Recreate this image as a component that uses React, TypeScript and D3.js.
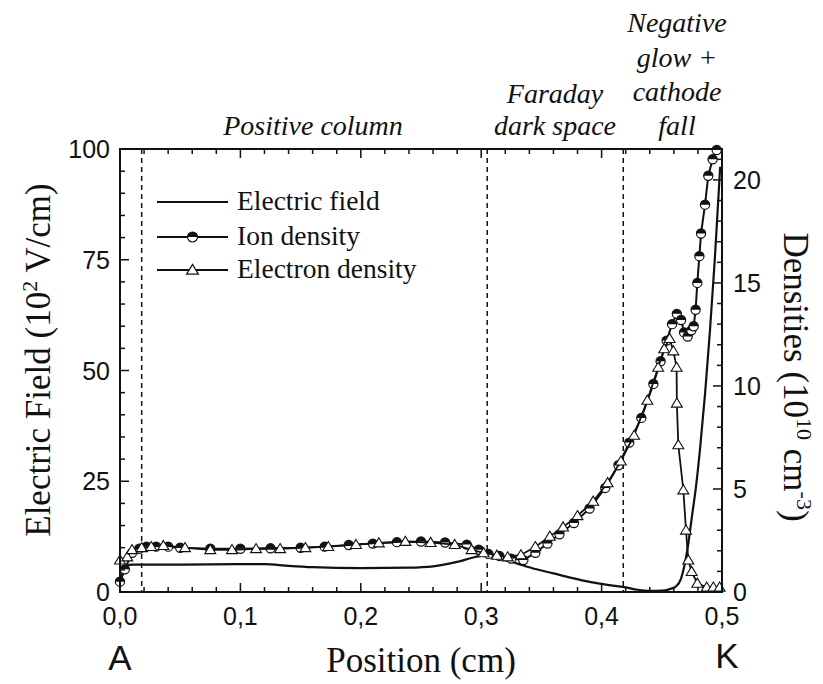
import React from "react";
import * as d3 from "d3";

// Electric field (10^2 V/cm) vs position (cm)
const fieldX = [0, 0.006, 0.01, 0.05, 0.1, 0.12, 0.14, 0.16, 0.2, 0.24, 0.26, 0.28, 0.295, 0.303, 0.315, 0.33, 0.345, 0.36, 0.375, 0.39, 0.405, 0.419, 0.43, 0.44, 0.45, 0.456, 0.462, 0.466, 0.468, 0.4715, 0.475, 0.4785, 0.482, 0.486, 0.49, 0.494, 0.4985];
const fieldY = [2.5, 6.0, 6.2, 6.2, 6.3, 6.3, 5.9, 5.6, 5.4, 5.5, 5.8, 6.8, 7.9, 8.3, 7.6, 6.4, 5.2, 4.2, 3.2, 2.3, 1.6, 1.1, 0.5, 0.25, 0.3, 0.6, 1.3, 3.0, 5.0, 10, 17, 24, 33, 45, 59, 75, 96];

// Ion density (10^10 cm^-3)
const ionX = [0, 0.004, 0.01, 0.016, 0.022, 0.03, 0.04, 0.05, 0.075, 0.1, 0.125, 0.15, 0.17, 0.19, 0.21, 0.23, 0.25, 0.27, 0.288, 0.298, 0.306, 0.315, 0.325, 0.335, 0.345, 0.355, 0.365, 0.377, 0.39, 0.403, 0.414, 0.423, 0.433, 0.443, 0.449, 0.454, 0.4585, 0.4625, 0.466, 0.4685, 0.4715, 0.4745, 0.4765, 0.4781, 0.4795, 0.4812, 0.4826, 0.4859, 0.4886, 0.4922, 0.4956];
const ionY = [0.5, 1.1, 1.9, 2.1, 2.2, 2.2, 2.2, 2.15, 2.1, 2.1, 2.12, 2.15, 2.2, 2.28, 2.35, 2.42, 2.45, 2.4, 2.3, 2.05, 1.85, 1.75, 1.62, 1.55, 1.9, 2.35, 2.8, 3.35, 4.05, 5.05, 6.15, 7.25, 8.45, 10.1, 11.2, 12.2, 13.0, 13.5, 13.2, 12.6, 12.4, 12.7, 12.9, 13.7, 15.0, 16.3, 17.4, 18.8, 20.2, 21.0, 21.45];

// Electron density (10^10 cm^-3)
const eleX = [0, 0.006, 0.01, 0.018, 0.026, 0.036, 0.054, 0.075, 0.093, 0.113, 0.133, 0.154, 0.173, 0.196, 0.215, 0.237, 0.258, 0.278, 0.292, 0.302, 0.313, 0.322, 0.333, 0.345, 0.357, 0.368, 0.38, 0.393, 0.405, 0.416, 0.427, 0.438, 0.447, 0.452, 0.4565, 0.4596, 0.4623, 0.4625, 0.4637, 0.4679, 0.4701, 0.472, 0.4748, 0.4795, 0.4873, 0.4928, 0.498];
const eleY = [1.55, 1.7, 2.05, 2.15, 2.2, 2.25, 2.15, 2.05, 2.05, 2.1, 2.1, 2.15, 2.2, 2.3, 2.38, 2.45, 2.4, 2.3, 2.05, 1.9, 1.78, 1.7, 1.8, 2.2, 2.7, 3.15, 3.7, 4.4, 5.3, 6.35, 7.6, 9.3, 10.9, 11.8, 12.3, 11.7, 10.9, 9.16, 7.14, 4.95, 3.0, 1.55, 0.99, 0.42, 0.23, 0.23, 0.23];

// Axis ticks
const xMajor = [0, 0.1, 0.2, 0.3, 0.4, 0.5];
const xMajorLabels = ["0,0", "0,1", "0,2", "0,3", "0,4", "0,5"];
const leftMajor = [0, 25, 50, 75, 100];
const rightMajor = [0, 5, 10, 15, 20];

// Region boundaries (cm)
const boundaries = [0.018, 0.305, 0.418];

const legendItems = ["Electric field", "Ion density", "Electron density"];

const INK = "#111";

export default function App() {
  const W = 823, H = 684;
  const L = 120, R = 722, T = 149, B = 592;
  const x = d3.scaleLinear().domain([0, 0.5]).range([L, R]);
  const yL = d3.scaleLinear().domain([0, 100]).range([B, T]);
  const yR = d3.scaleLinear().domain([0, 21.5]).range([B, T]);

  const field = fieldX.map((v, i) => [v, fieldY[i]] as [number, number]);
  const ion = ionX.map((v, i) => [v, ionY[i]] as [number, number]);
  const ele = eleX.map((v, i) => [v, eleY[i]] as [number, number]);

  const fieldLine = d3.line<[number, number]>().x(d => x(d[0])).y(d => yL(d[1])).curve(d3.curveMonotoneX);
  const denLine = d3.line<[number, number]>().x(d => x(d[0])).y(d => yR(d[1]));

  const xMinor = d3.range(0, 0.5001, 0.02).filter(v => Math.abs(v * 10 - Math.round(v * 10)) > 1e-6);
  const leftMinor = d3.range(0, 100.001, 5).filter(v => v % 25 !== 0);
  const rightMinor = d3.range(0, 21.001, 1).filter(v => v % 5 !== 0);

  const MAJ = 9, MIN = 5;
  const r = 4.6;
  const tri = (cx: number, cy: number, s = 5.2) =>
    `M${cx},${cy - s} L${cx + s * 1.05},${cy + s * 0.75} L${cx - s * 1.05},${cy + s * 0.75} Z`;
  const halfTop = (cx: number, cy: number, rr: number) =>
    `M${cx - rr},${cy} A${rr},${rr} 0 0 1 ${cx + rr},${cy} Z`;

  const serif = "'Liberation Serif', 'Times New Roman', serif";
  const sans = "'Liberation Sans', Arial, sans-serif";

  return (
    <svg width={W} height={H} style={{ position: "absolute", left: 0, top: 0, background: "#fff" }}>
      <rect x={0} y={0} width={W} height={H} fill="#fff" />

      {/* region boundaries */}
      {boundaries.map((b, i) => (
        <line key={"b" + i} x1={x(b)} x2={x(b)} y1={T} y2={B} stroke={INK} strokeWidth={1.5} strokeDasharray="5,4" />
      ))}

      {/* electric field */}
      <path d={fieldLine(field) || ""} fill="none" stroke={INK} strokeWidth={2.2} />

      {/* ion density */}
      <path d={denLine(ion) || ""} fill="none" stroke={INK} strokeWidth={2} />
      {ion.map((d, i) => (
        <g key={"i" + i}>
          <circle cx={x(d[0])} cy={yR(d[1])} r={r} fill="#fff" stroke={INK} strokeWidth={1.2} />
          <path d={halfTop(x(d[0]), yR(d[1]), r)} fill={INK} />
        </g>
      ))}

      {/* electron density */}
      <path d={denLine(ele) || ""} fill="none" stroke={INK} strokeWidth={1.8} />
      {ele.map((d, i) => (
        <path key={"e" + i} d={tri(x(d[0]), yR(d[1]))} fill="#fff" stroke={INK} strokeWidth={1.1} />
      ))}

      {/* frame */}
      <rect x={L} y={T} width={R - L} height={B - T} fill="none" stroke={INK} strokeWidth={2} />

      {/* bottom & top ticks */}
      {xMajor.map((v, i) => (
        <g key={"xm" + i}>
          <line x1={x(v)} x2={x(v)} y1={B} y2={B - MAJ} stroke={INK} strokeWidth={1.5} />
          <line x1={x(v)} x2={x(v)} y1={T} y2={T + MAJ} stroke={INK} strokeWidth={1.5} />
          <text x={x(v)} y={625} textAnchor="middle" fontFamily={sans} fontSize={25} fill={INK}>{xMajorLabels[i]}</text>
        </g>
      ))}
      {xMinor.map((v, i) => (
        <g key={"xn" + i}>
          <line x1={x(v)} x2={x(v)} y1={B} y2={B - MIN} stroke={INK} strokeWidth={1.5} />
          <line x1={x(v)} x2={x(v)} y1={T} y2={T + MIN} stroke={INK} strokeWidth={1.5} />
        </g>
      ))}

      {/* left ticks */}
      {leftMajor.map((v, i) => (
        <g key={"lm" + i}>
          <line x1={L} x2={L + MAJ} y1={yL(v)} y2={yL(v)} stroke={INK} strokeWidth={1.5} />
          <text x={L - 10} y={yL(v) + 9} textAnchor="end" fontFamily={sans} fontSize={25} fill={INK}>{v}</text>
        </g>
      ))}
      {leftMinor.map((v, i) => (
        <line key={"ln" + i} x1={L} x2={L + MIN} y1={yL(v)} y2={yL(v)} stroke={INK} strokeWidth={1.5} />
      ))}

      {/* right ticks */}
      {rightMajor.map((v, i) => (
        <g key={"rm" + i}>
          <line x1={R} x2={R - MAJ} y1={yR(v)} y2={yR(v)} stroke={INK} strokeWidth={1.5} />
          <text x={R + 11} y={yR(v) + 9} textAnchor="start" fontFamily={sans} fontSize={25} fill={INK}>{v}</text>
        </g>
      ))}
      {rightMinor.map((v, i) => (
        <line key={"rn" + i} x1={R} x2={R - MIN} y1={yR(v)} y2={yR(v)} stroke={INK} strokeWidth={1.5} />
      ))}

      {/* axis titles */}
      <text transform="translate(50,360) rotate(-90)" textAnchor="middle" fontFamily={serif} fontSize={35} fill={INK}>
        Electric Field (10<tspan dy={-13} fontSize={22}>2</tspan><tspan dy={13}> V/cm)</tspan>
      </text>
      <text transform="translate(784,377) rotate(90)" textAnchor="middle" fontFamily={serif} fontSize={35} fill={INK}>
        Densities (10<tspan dy={-13} fontSize={22}>10</tspan><tspan dy={13}> cm</tspan><tspan dy={-13} fontSize={22}>-3</tspan><tspan dy={13}>)</tspan>
      </text>
      <text x={421} y={672} textAnchor="middle" fontFamily={serif} fontSize={35} fill={INK}>Position (cm)</text>
      <text x={120} y={670} textAnchor="middle" fontFamily={sans} fontSize={35} fill={INK}>A</text>
      <text x={727} y={668} textAnchor="middle" fontFamily={sans} fontSize={35} fill={INK}>K</text>

      {/* region annotations */}
      <g fontFamily={serif} fontStyle="italic" fontSize={28} fill={INK} textAnchor="middle">
        <text x={313} y={135}>Positive column</text>
        <text x={555} y={103}>Faraday</text>
        <text x={555} y={135}>dark space</text>
        <text x={677} y={32}>Negative</text>
        <text x={677} y={67}>glow +</text>
        <text x={677} y={101}>cathode</text>
        <text x={677} y={135}>fall</text>
      </g>

      {/* legend */}
      {legendItems.map((lab, i) => {
        const ly = [202, 237, 270][i];
        return (
          <g key={"lg" + i}>
            <line x1={157} x2={228} y1={ly} y2={ly} stroke={INK} strokeWidth={2.2} />
            {i === 1 && (
              <g>
                <circle cx={192.5} cy={ly} r={5} fill="#fff" stroke={INK} strokeWidth={1.2} />
                <path d={halfTop(192.5, ly, 5)} fill={INK} />
              </g>
            )}
            {i === 2 && <path d={tri(192.5, ly, 5.6)} fill="#fff" stroke={INK} strokeWidth={1.2} />}
            <text x={237} y={ly + 8} fontFamily={serif} fontSize={27.5} fill={INK}>{lab}</text>
          </g>
        );
      })}
    </svg>
  );
}
